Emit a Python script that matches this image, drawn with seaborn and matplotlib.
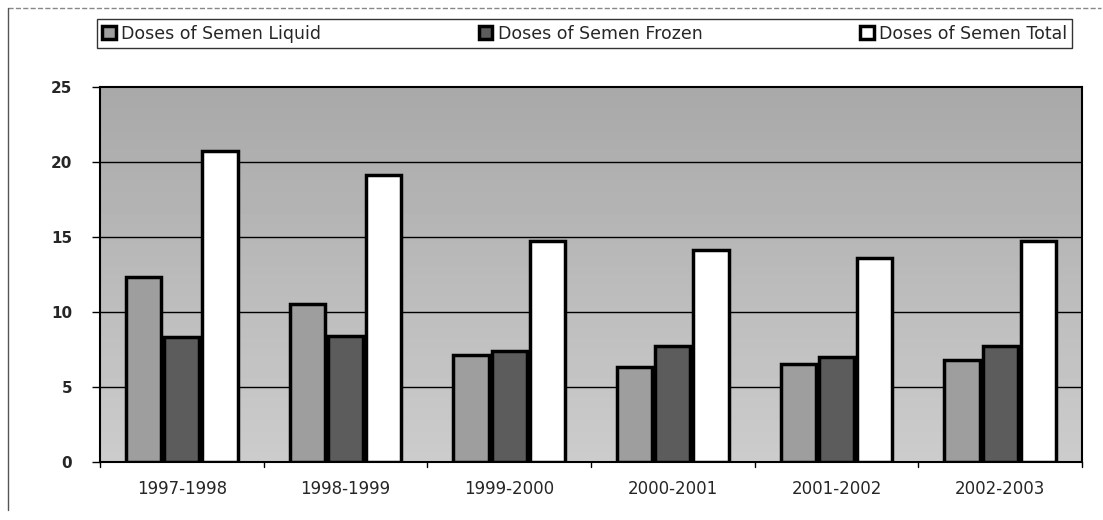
import numpy as np
import pandas as pd
import seaborn as sns
import matplotlib.pyplot as plt
from matplotlib.lines import Line2D

#------------- data
seasons = ['1997-1998', '1998-1999', '1999-2000', '2000-2001', '2001-2002', '2002-2003']
liquid = [12.3, 10.5, 7.1, 6.3, 6.5, 6.8]
frozen = [8.3, 8.4, 7.4, 7.7, 7.0, 7.7]
total = [20.7, 19.1, 14.7, 14.1, 13.6, 14.7]
series_names = ['Doses of Semen Liquid', 'Doses of Semen Frozen', 'Doses of Semen Total']
y_ticks = [0, 5, 10, 15, 20, 25]

#------------- long table for seaborn
df = pd.DataFrame({
    'Season': seasons * 3,
    'Series': [series_names[0]] * 6 + [series_names[1]] * 6 + [series_names[2]] * 6,
    'Doses': liquid + frozen + total,
})

sns.set_style('white')
plt.rcParams['font.family'] = ['DejaVu Sans']

fig = plt.figure(figsize=(11.03, 5.2), dpi=100)
ax = fig.add_axes([0.0907, 0.1115, 0.8903, 0.7215])

# scanned grey background: darker towards the top
shade = np.linspace(0.80, 0.66, 100).reshape(-1, 1)
ax.imshow(shade, extent=(-0.5, len(seasons) - 0.5, 0, 25), aspect='auto',
          cmap='gray', vmin=0, vmax=1, origin='lower', zorder=0)

palette = {series_names[0]: '#9e9e9e', series_names[1]: '#5c5c5c', series_names[2]: '#ffffff'}
sns.barplot(data=df, x='Season', y='Doses', hue='Series', palette=palette,
            width=0.7, gap=0.08, edgecolor='black', linewidth=2.5, saturation=1,
            ax=ax, zorder=3)

#------------- axes styling
ax.set_ylim(0, 25)
ax.set_xlim(-0.5, len(seasons) - 0.5)
ax.set_yticks(y_ticks)
ax.set_yticklabels([str(t) for t in y_ticks], fontsize=11, fontweight='bold')
ax.set_xticks(range(len(seasons)))
ax.set_xticklabels(seasons, fontsize=12)
ax.tick_params(axis='x', length=0, pad=13)
ax.tick_params(axis='y', length=6, width=1, color='black', direction='out', pad=14, left=True)
for b in [i - 0.5 for i in range(len(seasons) + 1)]:
    ax.plot([b, b], [0, -0.35], color='black', lw=1, clip_on=False)
ax.set_xlabel('')
ax.set_ylabel('')
for y in y_ticks[1:-1]:
    ax.axhline(y, color='black', lw=1, zorder=1)
for s in ax.spines.values():
    s.set_visible(True)
    s.set_color('black')
    s.set_linewidth(1.5)

#------------- legend across the top
handles, labels = ax.get_legend_handles_labels()
ax.legend_.remove()
leg = fig.legend(handles, labels, loc='lower left', ncol=3, mode='expand',
                 bbox_to_anchor=(0.088, 0.908, 0.884, 0.054), frameon=True,
                 fancybox=False, edgecolor='black', fontsize=12.5,
                 handlelength=0.8, handleheight=0.8, handletextpad=0.3,
                 borderaxespad=0, borderpad=0.3)
leg.get_frame().set_linewidth(1)

#------------- outer frame lines (top and left)
fig.add_artist(Line2D([0.007, 0.998], [0.985, 0.985], color='#888888', lw=1, ls='--'))
fig.add_artist(Line2D([0.007, 0.007], [0.02, 0.985], color='#555555', lw=1))

plt.savefig('out.png', dpi=100)
